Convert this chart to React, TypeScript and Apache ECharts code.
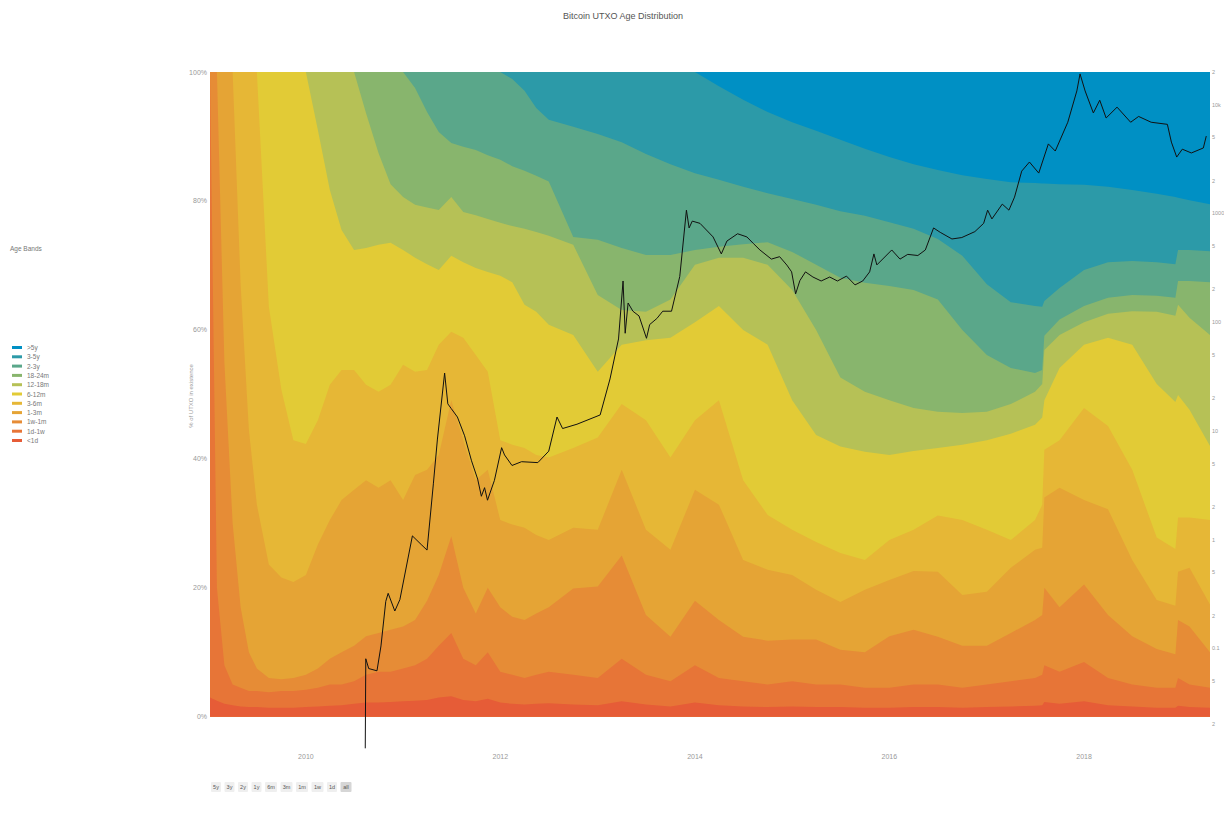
import React, { useEffect, useRef } from "react";
import * as echarts from "echarts";

const dates = [
  "2009-01-06", "2009-02-01", "2009-03-01", "2009-04-01", "2009-05-01", "2009-06-01", "2009-07-01", "2009-08-15",
  "2009-10-01", "2009-11-15", "2010-01-01", "2010-02-15", "2010-04-01", "2010-05-15", "2010-07-01", "2010-08-15",
  "2010-10-01", "2010-11-15", "2011-01-01", "2011-02-15", "2011-04-01", "2011-05-15", "2011-07-01", "2011-08-15",
  "2011-10-01", "2011-11-15", "2012-01-01", "2012-02-15", "2012-04-01", "2012-05-15", "2012-07-01", "2012-10-01",
  "2013-01-01", "2013-04-01", "2013-07-01", "2013-10-01", "2014-01-01", "2014-04-01", "2014-07-01", "2014-10-01",
  "2015-01-01", "2015-04-01", "2015-07-01", "2015-10-01", "2016-01-01", "2016-04-01", "2016-07-01", "2016-10-01",
  "2017-01-01", "2017-04-01", "2017-07-01", "2017-07-28", "2017-08-05", "2017-10-01", "2018-01-01", "2018-04-01",
  "2018-07-01", "2018-10-01", "2018-12-10", "2018-12-20", "2019-02-01", "2019-04-19",
];

// cumulative share (%) of UTXO younger than each age threshold
const allAges = [
  100, 100, 100, 100, 100, 100, 100, 100, 100, 100, 100, 100, 100, 100, 100, 100,
  100, 100, 100, 100, 100, 100, 100, 100, 100, 100, 100, 100, 100, 100, 100, 100,
  100, 100, 100, 100, 100, 100, 100, 100, 100, 100, 100, 100, 100, 100, 100, 100,
  100, 100, 100, 100, 100, 100, 100, 100, 100, 100, 100, 100, 100, 100,
];
const under5y = [
  100, 100, 100, 100, 100, 100, 100, 100, 100, 100, 100, 100, 100, 100, 100, 100,
  100, 100, 100, 100, 100, 100, 100, 100, 100, 100, 100, 100, 100, 100, 100, 100,
  100, 100, 100, 100, 100, 97.8, 95.7, 93.8, 92.2, 90.9, 89.5, 88.1, 86.8, 85.7, 84.8, 84.0,
  83.4, 82.9, 82.8, 82.7, 82.7, 82.6, 82.5, 82.2, 81.7, 81.1, 80.6, 80.5, 80.1, 79.5,
];
const under3y = [
  100, 100, 100, 100, 100, 100, 100, 100, 100, 100, 100, 100, 100, 100, 100, 100,
  100, 100, 100, 100, 100, 100, 100, 100, 100, 100, 100, 98.9, 97.1, 94.4, 92.6, 91.5,
  90.4, 89.1, 87.3, 85.7, 84.3, 83.3, 82.2, 81.2, 80.3, 79.4, 78.4, 77.7, 76.7, 75.7, 74.1, 71.5,
  67.1, 64.3, 63.7, 63.6, 64.5, 66.5, 69.3, 70.5, 70.7, 70.5, 70.2, 72.4, 72.4, 72.2,
];
const under24m = [
  100, 100, 100, 100, 100, 100, 100, 100, 100, 100, 100, 100, 100, 100, 100, 100,
  100, 100, 100, 97.5, 93.8, 90.7, 89.0, 88.4, 87.9, 87.1, 86.4, 85.4, 84.7, 83.9, 83.0, 74.4,
  74.0, 72.7, 71.6, 71.6, 72.4, 72.9, 73.3, 73.6, 72.1, 70.1, 68.1, 67.3, 66.8, 66.2, 64.7, 60.0,
  56.1, 54.1, 53.3, 53.8, 59.1, 61.6, 63.7, 65.0, 65.4, 65.3, 65.0, 67.6, 67.6, 67.4,
];
const under18m = [
  100, 100, 100, 100, 100, 100, 100, 100, 100, 100, 100, 100, 100, 100, 100, 93.6,
  87.4, 82.6, 80.6, 79.4, 79.0, 78.6, 80.6, 78.3, 77.8, 77.2, 76.6, 76.1, 75.7, 75.2, 74.6, 73.2,
  65.4, 63.1, 62.8, 64.7, 70.1, 71.2, 71.2, 70.1, 66.2, 60.0, 52.6, 50.4, 49.1, 47.9, 47.3, 47.1,
  47.3, 48.5, 50.4, 51.6, 56.9, 59.2, 61.2, 62.5, 62.9, 62.8, 62.2, 63.9, 61.9, 59.2,
];
const under12m = [
  100, 100, 100, 100, 100, 100, 100, 100, 100, 100, 100, 91.0, 81.7, 75.5, 72.4, 72.7,
  73.2, 73.5, 72.4, 71.2, 70.2, 69.3, 71.5, 70.5, 69.6, 69.0, 68.4, 67.4, 63.9, 62.8, 60.8, 59.2,
  53.5, 57.7, 58.4, 58.8, 61.2, 63.7, 60.0, 57.7, 49.1, 43.7, 41.9, 41.1, 40.6, 41.2, 41.7, 42.2,
  42.9, 43.9, 45.3, 46.4, 49.1, 54.1, 57.7, 58.8, 57.7, 51.6, 48.8, 49.9, 47.6, 42.0,
];
const under6m = [
  100, 100, 100, 100, 100, 100, 100, 63.6, 50.7, 42.9, 42.3, 46.0, 51.5, 53.8, 53.8, 51.5,
  50.4, 51.5, 54.6, 53.5, 53.8, 57.7, 59.7, 58.8, 56.1, 53.5, 42.9, 42.2, 41.7, 40.6, 40.2, 41.7,
  43.3, 48.5, 46.0, 40.2, 46.0, 49.1, 36.7, 31.3, 29.0, 27.1, 25.4, 24.3, 27.4, 29.0, 31.2, 30.5,
  29.0, 27.4, 30.5, 32.9, 41.4, 42.9, 47.9, 45.1, 38.3, 27.8, 26.0, 30.9, 30.9, 30.5,
];
const under3m = [
  100, 100, 100, 100, 67.0, 44.5, 32.9, 23.6, 21.6, 20.9, 22.0, 26.7, 30.5, 33.6, 35.2, 36.7,
  35.5, 36.7, 33.6, 37.5, 38.3, 40.6, 49.1, 42.9, 36.7, 38.3, 30.5, 29.8, 29.3, 28.2, 27.4, 29.3,
  29.0, 38.3, 29.0, 25.9, 35.2, 32.9, 24.3, 22.8, 22.0, 19.7, 17.8, 19.7, 21.2, 22.6, 22.5, 18.9,
  19.4, 23.1, 25.9, 26.2, 34.0, 35.5, 33.6, 32.2, 24.3, 18.1, 17.2, 22.5, 23.1, 17.4,
];
const under1m = [
  100, 100, 55, 30, 17, 10, 7.5, 6, 5.8, 6, 6.5, 7.5, 9, 10, 11, 12.5,
  13, 13.5, 14, 15, 18, 22, 28, 20, 16, 20, 17, 15.5, 15, 16, 17, 19.9,
  20.2, 25, 15.8, 12.4, 18, 15, 12.4, 11.8, 12, 12, 10.4, 10, 12.5, 13.5, 12.4, 11,
  11, 13, 15, 15.8, 20, 17, 20.5, 15.8, 12.5, 10.5, 9.7, 15, 14, 10,
];
const under1w = [
  100, 20, 8, 5, 4.5, 4, 4, 3.8, 4, 4, 4.2, 4.5, 5, 5, 5.5, 6.5,
  7, 7, 7.5, 8, 9, 11, 13, 9, 8, 10, 7, 6.5, 6, 6.5, 7, 6.5,
  6, 9, 6.5, 5.5, 8, 6, 5.5, 5, 5.5, 5, 5, 4.5, 4.5, 5, 5, 4.5,
  5, 5.5, 6, 6.5, 8, 7, 8.5, 6, 5, 4.5, 4.5, 6, 5, 4.5,
];
const under1d = [
  3.0, 2.5, 2.0, 1.8, 1.6, 1.5, 1.5, 1.4, 1.4, 1.4, 1.5, 1.6, 1.7, 1.8, 2.0, 2.2,
  2.2, 2.3, 2.4, 2.5, 2.6, 3.0, 3.2, 2.6, 2.4, 2.8, 2.2, 2.0, 1.9, 2.0, 2.1, 1.9,
  1.8, 2.4, 1.9, 1.6, 2.2, 1.8, 1.6, 1.5, 1.6, 1.5, 1.5, 1.4, 1.4, 1.5, 1.5, 1.4,
  1.5, 1.6, 1.7, 1.8, 2.3, 2.0, 2.4, 1.8, 1.6, 1.4, 1.4, 1.7, 1.5, 1.4,
];

const bandNames = [">5y", "3-5y", "2-3y", "18-24m", "12-18m", "6-12m", "3-6m", "1-3m", "1w-1m", "1d-1w", "<1d"];
const bandColors = [
  "#0090c4", "#2c9aa8", "#5aa78a", "#88b56d", "#b6c156", "#e2cb36",
  "#e6b736", "#e5a435", "#e68c36", "#e77537", "#e65c37",
];

const priceDates = [
  "2010-08-12", "2010-08-14", "2010-08-25", "2010-09-25", "2010-10-10", "2010-10-28", "2010-11-06", "2010-12-01",
  "2010-12-20", "2011-02-05", "2011-03-10", "2011-04-01", "2011-04-25", "2011-05-10", "2011-06-06", "2011-06-18",
  "2011-07-01", "2011-07-24", "2011-08-20", "2011-09-15", "2011-10-08", "2011-10-22", "2011-11-03", "2011-11-14",
  "2011-12-10", "2012-01-06", "2012-01-17", "2012-02-14", "2012-03-21", "2012-05-21", "2012-07-01", "2012-08-01",
  "2012-08-22", "2012-10-15", "2013-01-10", "2013-02-16", "2013-03-20", "2013-04-06", "2013-04-14", "2013-04-25",
  "2013-05-13", "2013-06-05", "2013-07-03", "2013-07-15", "2013-08-11", "2013-09-02", "2013-10-05", "2013-11-05",
  "2013-11-30", "2013-12-10", "2013-12-22", "2014-01-20", "2014-03-10", "2014-04-10", "2014-05-01", "2014-06-10",
  "2014-07-15", "2014-08-08", "2014-09-02", "2014-10-15", "2014-11-15", "2014-12-12", "2014-12-30", "2015-01-14",
  "2015-01-30", "2015-02-20", "2015-03-20", "2015-04-20", "2015-05-22", "2015-06-20", "2015-07-24", "2015-08-25",
  "2015-09-23", "2015-10-19", "2015-11-04", "2015-11-15", "2016-01-10", "2016-02-10", "2016-03-10", "2016-04-17",
  "2016-05-15", "2016-06-15", "2016-07-10", "2016-08-23", "2016-09-29", "2016-11-17", "2016-12-20", "2017-01-04",
  "2017-01-20", "2017-02-28", "2017-03-25", "2017-04-15", "2017-05-12", "2017-06-10", "2017-07-15", "2017-08-20",
  "2017-09-15", "2017-11-01", "2017-12-05", "2017-12-17", "2018-01-05", "2018-02-05", "2018-03-01", "2018-03-25",
  "2018-05-05", "2018-06-25", "2018-07-25", "2018-09-10", "2018-11-10", "2018-11-25", "2018-12-15", "2019-01-05",
  "2019-02-08", "2019-03-25", "2019-04-05",
];
const priceUsd = [
  0.012, 0.08, 0.065, 0.062, 0.105, 0.27, 0.32, 0.22,
  0.28, 1.08, 0.9, 0.8, 3.3, 8.4, 34, 17.7,
  16, 13.4, 9, 5.3, 3.6, 2.5, 3, 2.3,
  3.5, 7, 6, 4.8, 5.2, 5.1, 6.5, 13.4,
  10.5, 11.5, 14, 30, 70, 239, 79, 150,
  126, 114, 71, 95, 108, 126, 126, 263,
  1072, 735, 850, 810, 608, 424, 557, 650,
  608, 530, 461, 380, 400, 335, 290, 182,
  241, 290, 260, 239, 260, 239, 265, 220,
  239, 290, 424, 336, 461, 380, 420, 410,
  461, 735, 670, 582, 600, 680, 810, 1072,
  890, 1218, 1072, 1412, 2450, 2970, 2350, 4360,
  3750, 6900, 13400, 19200, 13400, 8400, 11000, 7550,
  9500, 6900, 7800, 6900, 6600, 4530, 3300, 3900,
  3600, 4000, 5150,
];

const priceTicks = [0.02, 0.05, 0.1, 0.2, 0.5, 1, 2, 5, 10, 20, 50, 100, 200, 500, 1000, 2000, 5000, 10000, 20000];
const priceTickLabels = ["2", "5", "0.1", "2", "5", "1", "2", "5", "10", "2", "5", "100", "2", "5", "1000", "2", "5", "10k", "2"];
const priceAxisMin = 0.01183;
const priceAxisMax = 20000;
const shareTicks = [0, 20, 40, 60, 80, 100];
const yearTicks = ["2010-01-01", "2012-01-01", "2014-01-01", "2016-01-01", "2018-01-01"];
const rangeButtons = ["5y", "3y", "2y", "1y", "6m", "3m", "1m", "1w", "1d", "all"];
const xStart = "2009-01-06";
const xEnd = "2019-04-19";

const FONT = "'Liberation Sans', Arial, Helvetica, sans-serif";
const ts = (d: string) => Date.UTC(+d.slice(0, 4), +d.slice(5, 7) - 1, +d.slice(8, 10));

export default function App() {
  const ref = useRef<HTMLDivElement>(null);

  useEffect(() => {
    if (!ref.current) return;
    const chart = echarts.init(ref.current, undefined, { renderer: "svg", width: 1224, height: 821 });
    const cumulative = [allAges, under5y, under3y, under24m, under18m, under12m, under6m, under3m, under1m, under1w, under1d];
    const yearTs = yearTicks.map(ts);

    const bandSeries = bandNames.map((name, k) => ({
      name,
      type: "line",
      xAxisIndex: 0,
      yAxisIndex: 0,
      data: dates.map((d, i) => [ts(d), cumulative[k][i]]),
      showSymbol: false,
      symbol: "none",
      silent: true,
      lineStyle: { width: 0 },
      itemStyle: { color: bandColors[k] },
      areaStyle: { color: bandColors[k], opacity: 1 },
      z: 2,
    }));

    const buttons: any[] = [];
    let bx = 211;
    rangeButtons.forEach((label) => {
      const w = label === "all" ? 11 : /[mw]/.test(label) ? 12 : 10;
      buttons.push({
        type: "rect",
        shape: { x: bx, y: 782, width: w, height: 10, r: 1 },
        style: { fill: label === "all" ? "#d6d6d6" : "#efefef" },
      });
      buttons.push({
        type: "text",
        x: bx + w / 2,
        y: 787,
        style: {
          text: label,
          fontSize: 5.5,
          fontFamily: FONT,
          fill: "#555",
          textAlign: "center",
          textVerticalAlign: "middle",
        },
      });
      bx += w + 3.5;
    });

    chart.setOption({
      animation: false,
      textStyle: { fontFamily: FONT },
      grid: { left: 210, right: 14, top: 72, bottom: 72, containLabel: false, outerBoundsMode: "none" },
      legend: {
        data: bandNames,
        orient: "vertical",
        left: 12,
        top: 344,
        padding: 0,
        icon: "rect",
        itemWidth: 10,
        itemHeight: 3,
        itemGap: 2.3,
        selectedMode: false,
        textStyle: { fontSize: 6.5, color: "#777", fontFamily: FONT, lineHeight: 7 },
      },
      xAxis: {
        type: "value",
        min: ts(xStart),
        max: ts(xEnd),
        axisLine: { show: false },
        splitLine: { show: false },
        axisTick: {
          show: true,
          inside: true,
          length: 32,
          customValues: yearTs,
          lineStyle: { color: "#eeeeee" },
        },
        axisLabel: {
          customValues: yearTs,
          formatter: (v: number) => String(new Date(v).getUTCFullYear()),
          fontSize: 7,
          color: "#999",
          margin: 4,
        },
      },
      yAxis: [
        {
          type: "value",
          min: -5,
          max: 100,
          axisLine: { show: false },
          axisTick: { show: false },
          splitLine: { show: false },
          axisLabel: {
            customValues: shareTicks,
            formatter: "{value}%",
            fontSize: 7,
            color: "#999",
            margin: 3,
          },
        },
        {
          type: "value",
          position: "right",
          min: Math.log10(priceAxisMin),
          max: Math.log10(priceAxisMax),
          axisLine: { show: false },
          axisTick: { show: false },
          splitLine: { show: false },
          axisLabel: {
            customValues: priceTicks.map((t) => Math.log10(t)),
            formatter: (v: number) => {
              const i = priceTicks.findIndex((t) => Math.abs(Math.log10(t) - v) < 1e-6);
              return i >= 0 ? priceTickLabels[i] : "";
            },
            fontSize: 5.5,
            color: "#999",
            margin: 2,
            align: "left",
            showMinLabel: true,
            showMaxLabel: true,
          },
        },
      ],
      series: [
        ...bandSeries,
        {
          name: "Price",
          type: "line",
          yAxisIndex: 1,
          data: priceDates.map((d, i) => [ts(d), Math.log10(priceUsd[i])]),
          showSymbol: false,
          symbol: "none",
          silent: true,
          lineStyle: { color: "#111", width: 1 },
          itemStyle: { color: "#111" },
          z: 5,
        },
      ],
      graphic: [
        {
          type: "text",
          x: 623,
          y: 16,
          style: {
            text: "Bitcoin UTXO Age Distribution",
            fontSize: 9,
            fontFamily: FONT,
            fill: "#555",
            textAlign: "center",
            textVerticalAlign: "middle",
          },
        },
        {
          type: "text",
          x: 10,
          y: 248,
          style: {
            text: "Age Bands",
            fontSize: 6.5,
            fontFamily: FONT,
            fill: "#777",
            textAlign: "left",
            textVerticalAlign: "middle",
          },
        },
        {
          type: "text",
          x: 191,
          y: 396,
          rotation: Math.PI / 2,
          style: {
            text: "% of UTXO in existence",
            fontSize: 6,
            fontFamily: FONT,
            fill: "#999",
            textAlign: "center",
            textVerticalAlign: "middle",
          },
        },
        ...buttons,
      ],
    });
    return () => chart.dispose();
  }, []);

  return (
    <div
      ref={ref}
      style={{ position: "fixed", left: 0, top: 0, width: 1224, height: 821, background: "#fff" }}
    />
  );
}
